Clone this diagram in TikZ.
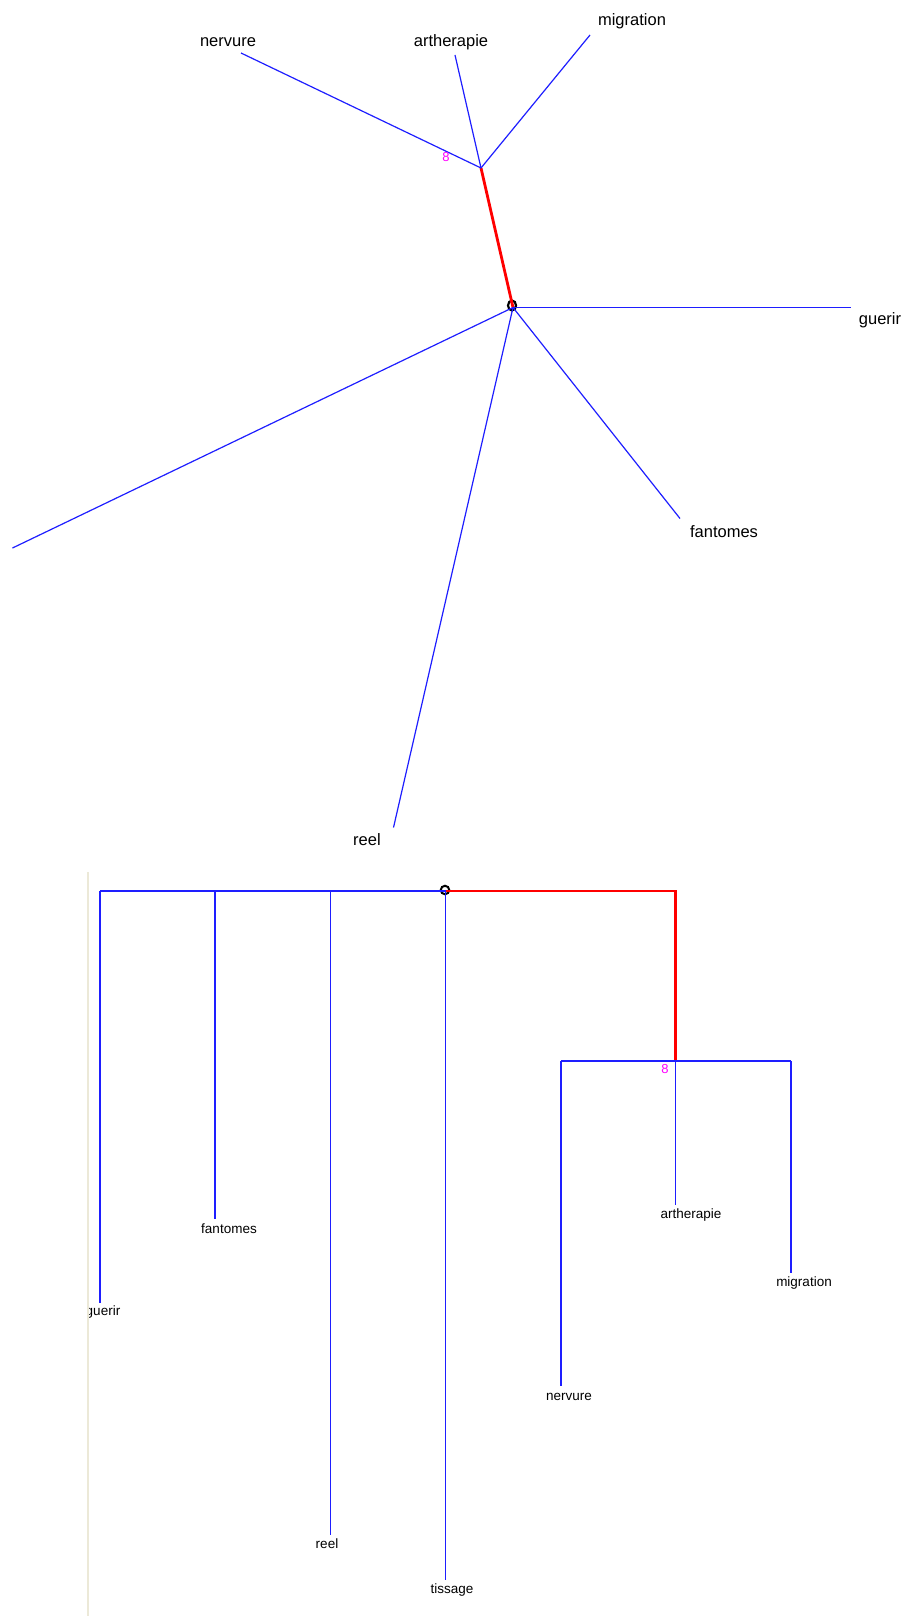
\documentclass[tikz,border=0pt]{standalone}
\usepackage{fontspec}
\usetikzlibrary{shapes.geometric}
\setmainfont{Liberation Sans}
\definecolor{treeblue}{RGB}{30,30,255}
\definecolor{panelbeige}{RGB}{236,233,216}
\definecolor{nummag}{RGB}{255,0,255}
\begin{document}
\begin{tikzpicture}[x=1pt,y=-1pt,
  edge/.style={draw=treeblue, line width=1.2pt},
  hot/.style={draw=red, line width=2.8pt},
  toplab/.style={font=\fontsize{16.5}{18}\selectfont, inner sep=0pt},
  botlab/.style={font=\fontsize{13.5}{15}\selectfont, inner sep=0pt},
  numlab/.style={text=nummag, font=\fontsize{13}{15}\selectfont, inner sep=0pt},
  rootmark/.style={ellipse, draw=black, line width=2.2pt, minimum width=8pt, minimum height=10pt, inner sep=0pt},
  rootmarksmall/.style={circle, draw=black, line width=2pt, minimum size=8.5pt, inner sep=0pt}]
\useasboundingbox (0,0) rectangle (905,1616);
\fill[white] (0,0) rectangle (905,1616);

% ---------------- top (radial) tree ----------------
\coordinate (tr) at (513,307.5);
\coordinate (tj) at (481,168);
\coordinate (tnE) at (241,53);
\coordinate (taE) at (455,55);
\coordinate (tmE) at (590,35);
\coordinate (tgE) at (851,307.5);
\coordinate (tfE) at (680,518.5);
\coordinate (trE) at (393.5,827.5);
\coordinate (ttE) at (12.5,548);

\node[rootmark] (trm) at (512,305.5) {};
\draw[hot] (tr) -- (tj);
\draw[edge] (tj) -- (tnE);
\draw[edge] (tj) -- (taE);
\draw[edge] (tj) -- (tmE);
\draw[edge] (tr) -- (tgE);
\draw[edge] (tr) -- (tfE);
\draw[edge] (tr) -- (trE);
\draw[edge] (tr) -- (ttE);

\node[toplab] (tnL) at (228,42) {nervure};
\node[toplab] (taL) at (451,42) {artherapie};
\node[toplab] (tmL) at (632,21) {migration};
\node[toplab] (tgL) at (880,320.5) {guerir};
\node[toplab] (tfL) at (724,532) {fantomes};
\node[toplab] (trL) at (367,840) {reel};
\node[numlab] (t8) at (446,157.5) {8};

% ---------------- bottom (rectangular) tree ----------------
\draw[draw=panelbeige, line width=1.5pt] (88,872) -- (88,1616);

\coordinate (br) at (445.7,891);
\coordinate (bj) at (675.3,1061);
\coordinate (bcorner) at (675.3,891);
\coordinate (bgT) at (100,891);
\coordinate (bfT) at (215,891);
\coordinate (breT) at (330.5,891);
\coordinate (bgE) at (100,1302.5);
\coordinate (bfE) at (215,1219);
\coordinate (breE) at (330.5,1535);
\coordinate (btE) at (445.7,1580);
\coordinate (bnT) at (561,1061);
\coordinate (bmT) at (791,1061);
\coordinate (bnE) at (561,1386);
\coordinate (baE) at (675.3,1205);
\coordinate (bmE) at (791,1273);

\node[rootmarksmall] (brm) at (445,890) {};
\draw[hot] (br) -- (bcorner) -- (bj);
\draw[edge] (bgT) -- (br);
\draw[edge] (bgT) -- (bgE);
\draw[edge] (bfT) -- (bfE);
\draw[edge] (breT) -- (breE);
\draw[edge] (br) -- (btE);
\draw[edge] (bnT) -- (bmT);
\draw[edge] (bnT) -- (bnE);
\draw[edge] (bj) -- (baE);
\draw[edge] (bmT) -- (bmE);

\begin{scope}
  \clip (89,1295) rectangle (200,1330);
  \node[botlab] (bgL) at (103,1312) {guerir};
\end{scope}
\node[botlab] (bfL) at (229,1228.5) {fantomes};
\node[botlab] (breL) at (327,1544) {reel};
\node[botlab] (btL) at (452,1590) {tissage};
\node[botlab] (bnL) at (569,1397) {nervure};
\node[botlab] (baL) at (691,1215) {artherapie};
\node[botlab] (bmL) at (804,1283) {migration};
\node[numlab] (b8) at (665,1069.5) {8};
\end{tikzpicture}
\end{document}
